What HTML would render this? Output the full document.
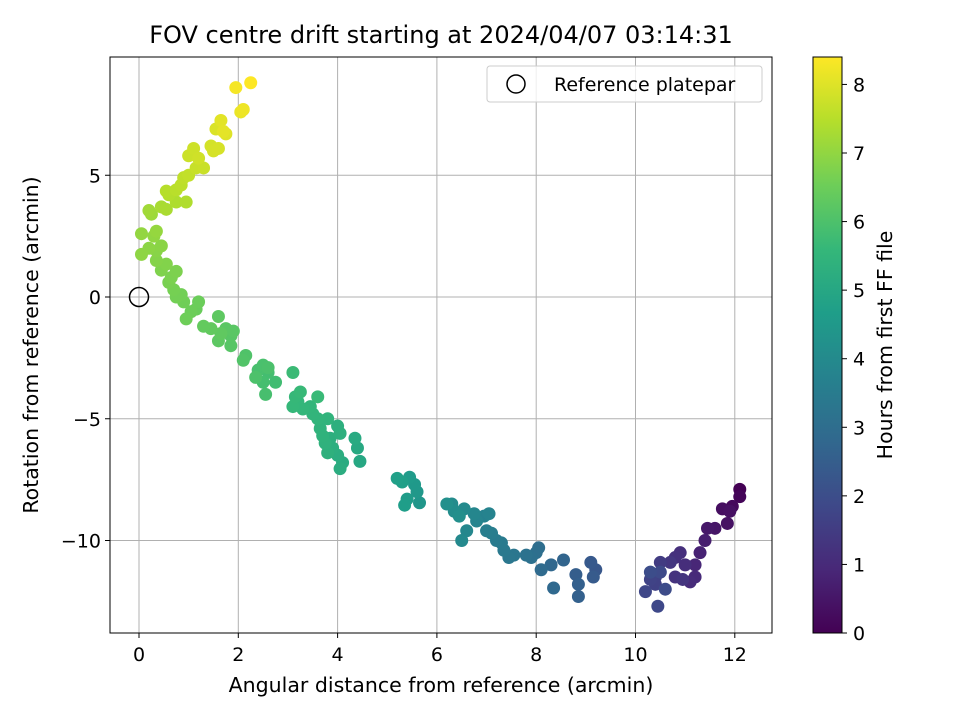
<!DOCTYPE html>
<html><head><meta charset="utf-8"><style>
body{margin:0;background:#fff;font-family:"Liberation Sans","DejaVu Sans",sans-serif}
svg text{font-family:"DejaVu Sans","Liberation Sans",sans-serif}
</style></head><body>
<svg id="chart" width="960" height="720" viewBox="0 0 960 720" xmlns="http://www.w3.org/2000/svg">
<defs>
<linearGradient id="vir" x1="0" y1="1" x2="0" y2="0">
<stop offset="0" stop-color="#440154"/><stop offset="0.111" stop-color="#482878"/><stop offset="0.222" stop-color="#3e4989"/><stop offset="0.333" stop-color="#31688e"/><stop offset="0.444" stop-color="#26828e"/><stop offset="0.556" stop-color="#1f9e89"/><stop offset="0.667" stop-color="#35b779"/><stop offset="0.778" stop-color="#6ece58"/><stop offset="0.889" stop-color="#b5de2b"/><stop offset="1" stop-color="#fde725"/>
</linearGradient>
<clipPath id="pc"><rect x="110" y="57" width="662" height="576"/></clipPath>
</defs>
<rect width="960" height="720" fill="#fff"/>
<text x="441" y="43" font-size="24" text-anchor="middle">FOV centre drift starting at 2024/04/07 03:14:31</text>
<g id="grid"></g>
<g id="points" clip-path="url(#pc)"></g>
<rect x="110" y="57" width="662" height="576" fill="none" stroke="#000" stroke-width="1"/>
<g id="ticks"></g>
<text x="441" y="692" font-size="20.5" text-anchor="middle">Angular distance from reference (arcmin)</text>
<text transform="translate(38,345) rotate(-90)" font-size="20.5" text-anchor="middle">Rotation from reference (arcmin)</text>
<g>
<rect x="487" y="66" width="275" height="36" rx="3" fill="#fff" fill-opacity="0.8" stroke="#ccc"/>
<circle cx="516" cy="84" r="9" fill="none" stroke="#000" stroke-width="1.5"/>
<text x="554" y="91" font-size="19">Reference platepar</text>
</g>
<rect x="813" y="57" width="29" height="576" fill="url(#vir)" stroke="#000" stroke-width="1"/>
<g id="cbticks"></g>
<text transform="translate(892,345) rotate(-90)" font-size="20.5" text-anchor="middle">Hours from first FF file</text>
</svg>
<script>
const xs=[12.1,12.1,11.95,11.75,11.85,11.9,11.6,11.45,11.4,11.3,11.2,11.2,11.1,11.0,10.9,10.8,10.8,10.95,10.7,10.5,10.4,10.4,10.3,10.2,10.45,10.5,10.6,10.3,
9.2,9.1,9.15,8.8,8.85,8.85,8.55,8.3,8.35,8.1,8.05,8.0,7.9,7.8,7.55,7.45,7.35,7.3,7.2,7.1,7.0,6.95,7.05,6.8,6.75,6.6,6.5,6.55,6.3,6.35,6.45,6.2,
5.65,5.6,5.55,5.45,5.4,5.35,5.3,5.2,
4.45,4.4,4.35,4.1,4.05,4.0,3.9,3.85,4.0,4.05,3.8,3.75,3.7,3.65,3.8,3.6,3.5,3.45,3.3,3.2,3.1,3.15,3.25,3.6,3.1,
2.75,2.6,2.5,2.55,2.4,2.5,2.6,2.35,2.15,2.1,1.85,1.85,1.9,1.75,1.6,1.6,1.65,1.45,1.3,
1.15,1.2,1.05,0.95,0.9,0.85,0.75,0.7,0.6,0.65,0.75,0.45,0.55,0.35,0.35,0.45,0.2,0.05,0.3,0.05,0.35,0.25,0.2,
0.45,0.55,0.75,0.95,0.6,0.55,0.75,0.85,0.9,1.0,1.15,1.3,1.0,1.1,1.2,1.45,1.5,1.6,1.55,1.75,1.65,1.7,2.05,2.1,1.95,2.25];
const ys=[-7.9,-8.2,-8.6,-8.7,-9.3,-8.8,-9.5,-9.5,-10.0,-10.5,-11.0,-11.5,-11.7,-11.0,-10.5,-10.7,-11.5,-11.6,-10.9,-10.9,-11.5,-11.8,-11.6,-12.1,-12.7,-11.3,-12.0,-11.3,
-11.2,-10.9,-11.5,-11.4,-11.8,-12.3,-10.8,-11.0,-11.95,-11.2,-10.3,-10.5,-10.7,-10.6,-10.6,-10.7,-10.4,-10.1,-10.0,-9.7,-9.6,-9.0,-8.9,-9.2,-8.9,-9.6,-10.0,-8.7,-8.5,-8.8,-9.0,-8.5,
-8.45,-8.0,-7.7,-7.4,-8.3,-8.55,-7.6,-7.45,
-6.75,-6.2,-5.8,-6.8,-7.05,-6.5,-6.2,-5.8,-5.3,-5.6,-6.4,-6.0,-5.7,-5.4,-5.0,-5.0,-4.8,-4.5,-4.6,-4.3,-4.5,-4.1,-3.9,-4.1,-3.1,
-3.5,-3.1,-3.5,-4.0,-3.0,-2.8,-2.9,-3.3,-2.4,-2.6,-2.0,-1.6,-1.4,-1.3,-1.8,-0.8,-1.5,-1.3,-1.2,
-0.5,-0.2,-0.6,-0.9,-0.2,0.1,0,0.3,0.6,0.8,1.05,1.1,1.35,1.5,1.9,2.1,2.0,1.75,2.5,2.6,2.7,3.4,3.55,
3.7,3.6,3.9,3.9,4.2,4.35,4.4,4.6,4.9,5.0,5.3,5.3,5.8,6.1,5.7,6.2,6.0,6.1,6.9,6.7,7.25,6.8,7.6,7.7,8.6,8.8];
const hours=[0.0,0.1,0.2,0.3,0.4,0.35,0.5,0.55,0.7,0.8,0.9,1.0,1.05,1.1,1.15,1.2,1.25,1.3,1.35,1.5,1.6,1.65,1.7,1.8,1.85,1.9,1.95,2.0,
2.3,2.35,2.4,2.5,2.55,2.6,2.7,2.8,2.85,2.9,3.0,3.05,3.1,3.15,3.3,3.35,3.4,3.45,3.5,3.55,3.6,3.7,3.75,3.8,3.85,3.9,3.95,4.0,4.05,4.1,4.15,4.2,
4.4,4.45,4.5,4.55,4.6,4.65,4.7,4.75,
5.0,5.05,5.1,5.15,5.2,5.22,5.25,5.28,5.3,5.32,5.35,5.37,5.4,5.42,5.45,5.47,5.5,5.52,5.55,5.57,5.6,5.62,5.65,5.67,5.7,
5.8,5.85,5.87,5.9,5.92,5.95,5.97,6.0,6.05,6.07,6.15,6.17,6.2,6.22,6.25,6.27,6.3,6.33,6.36,
6.45,6.48,6.5,6.52,6.55,6.58,6.6,6.63,6.67,6.7,6.73,6.76,6.8,6.83,6.87,6.9,6.93,6.95,7.0,7.02,7.05,7.15,7.2,
7.3,7.32,7.38,7.4,7.45,7.48,7.52,7.56,7.6,7.63,7.7,7.72,7.75,7.78,7.8,7.85,7.88,7.9,7.95,8.0,8.05,8.08,8.15,8.2,8.3,8.4];
const xTicks=[0,2,4,6,8,10,12];
const yTicks=[-10,-5,0,5];
const cTicks=[0,1,2,3,4,5,6,7,8];
const cMax=8.4;
const X=v=>139+v*49.65, Y=v=>297-v*24.35, C=v=>633-v/cMax*576;
const stops=["#440154","#482878","#3e4989","#31688e","#26828e","#1f9e89","#35b779","#6ece58","#b5de2b","#fde725"].map(h=>[1,3,5].map(i=>parseInt(h.substr(i,2),16)));
function vir(t){t=Math.max(0,Math.min(1,t))*9;const i=Math.min(8,Math.floor(t)),f=t-i;const a=stops[i],b=stops[i+1];return `rgb(${a.map((v,k)=>Math.round(v+(b[k]-v)*f)).join(',')})`;}
const NS="http://www.w3.org/2000/svg";
function mk(tag,attrs,parent){const e=document.createElementNS(NS,tag);for(const k in attrs)e.setAttribute(k,attrs[k]);document.getElementById(parent).appendChild(e);return e;}
xTicks.forEach(v=>{
 const g=mk('line',{x1:X(v),x2:X(v),y1:57,y2:633,stroke:'#b0b0b0','stroke-width':1},'grid');
 
 
 mk('line',{x1:X(v),x2:X(v),y1:633,y2:638,stroke:'#000'},'ticks');
 const t=mk('text',{x:X(v),y:661,'font-size':19,'text-anchor':'middle'},'ticks');t.textContent=v;
 
 
});
yTicks.forEach(v=>{
 const g=mk('line',{x1:110,x2:772,y1:Y(v),y2:Y(v),stroke:'#b0b0b0','stroke-width':1},'grid');
 
 
 mk('line',{x1:105,x2:110,y1:Y(v),y2:Y(v),stroke:'#000'},'ticks');
 const t=mk('text',{x:101,y:Y(v)+7,'font-size':19,'text-anchor':'end'},'ticks');t.textContent=v<0?'\u2212'+(-v):v;
 
 
});
cTicks.forEach(v=>{
 mk('line',{x1:842,x2:847,y1:C(v),y2:C(v),stroke:'#000'},'cbticks');
 const t=mk('text',{x:853,y:C(v)+7,'font-size':19},'cbticks');t.textContent=v;
 
 
});
xs.forEach((x,i)=>{
 const c=mk('circle',{cx:X(x),cy:Y(ys[i]),r:6.5,fill:vir(hours[i]/cMax)},'points');
 
 
});
const r=mk('circle',{cx:X(0),cy:Y(0),r:9.5,fill:'none',stroke:'#000','stroke-width':1.5},'points');


</script>
</body></html>
